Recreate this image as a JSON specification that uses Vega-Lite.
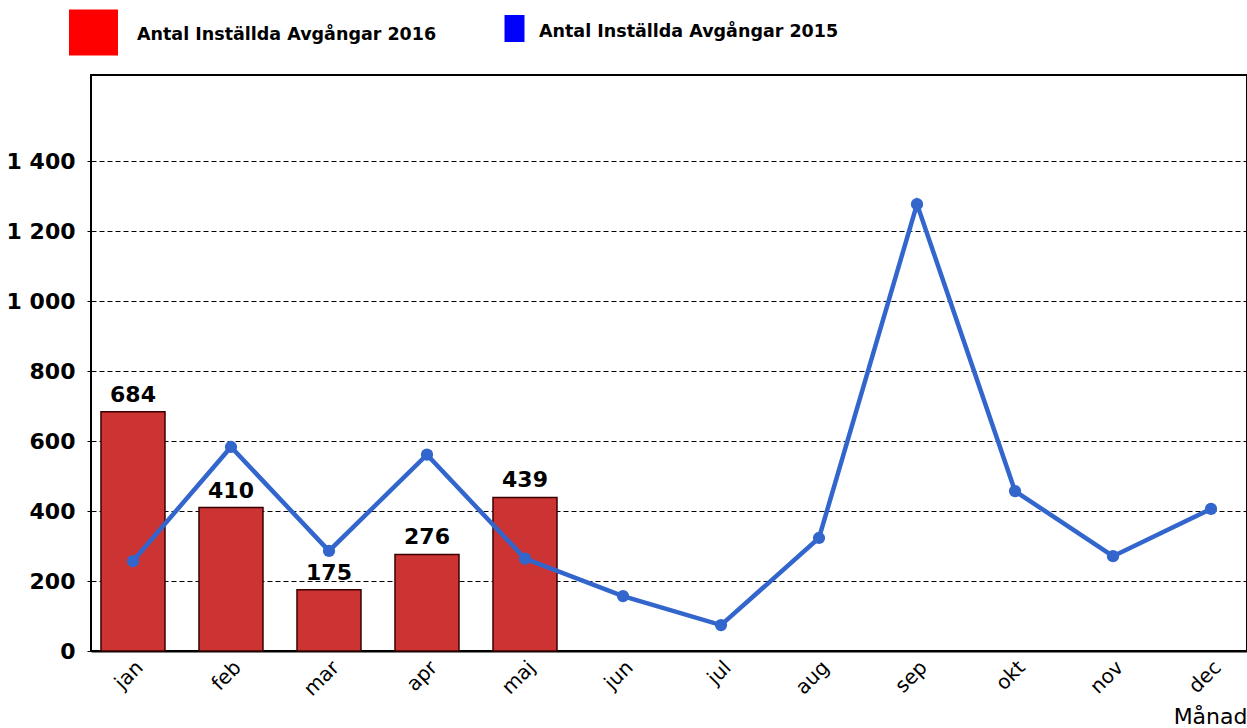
{
  "$schema": "https://vega.github.io/schema/vega-lite/v6.json",
  "width": 1156,
  "height": 576,
  "autosize": {"type": "none"},
  "padding": {"left": 91, "top": 75, "right": 0, "bottom": 77},
  "background": "white",
  "config": {
    "font": "DejaVu Sans",
    "view": {"stroke": "black", "strokeWidth": 2},
    "axis": {"labelFont": "DejaVu Sans", "titleFont": "DejaVu Sans"},
    "legend": {"labelFont": "DejaVu Sans"}
  },
  "resolve": {"scale": {"stroke": "independent"}, "legend": {"stroke": "independent"}},
  "datasets": {
    "bars": [
      {"month": "jan", "v2016": 684, "s": "Antal Inställda Avgångar 2016", "year": "2016"},
      {"month": "feb", "v2016": 410, "s": "Antal Inställda Avgångar 2016", "year": "2016"},
      {"month": "mar", "v2016": 175, "s": "Antal Inställda Avgångar 2016", "year": "2016"},
      {"month": "apr", "v2016": 276, "s": "Antal Inställda Avgångar 2016", "year": "2016"},
      {"month": "maj", "v2016": 439, "s": "Antal Inställda Avgångar 2016", "year": "2016"}
    ],
    "line": [
      {"month": "jan", "v2015": 257, "s": "Antal Inställda Avgångar 2015"},
      {"month": "feb", "v2015": 583, "s": "Antal Inställda Avgångar 2015"},
      {"month": "mar", "v2015": 286, "s": "Antal Inställda Avgångar 2015"},
      {"month": "apr", "v2015": 561, "s": "Antal Inställda Avgångar 2015"},
      {"month": "maj", "v2015": 264, "s": "Antal Inställda Avgångar 2015"},
      {"month": "jun", "v2015": 157, "s": "Antal Inställda Avgångar 2015"},
      {"month": "jul", "v2015": 74, "s": "Antal Inställda Avgångar 2015"},
      {"month": "aug", "v2015": 323, "s": "Antal Inställda Avgångar 2015"},
      {"month": "sep", "v2015": 1277, "s": "Antal Inställda Avgångar 2015"},
      {"month": "okt", "v2015": 457, "s": "Antal Inställda Avgångar 2015"},
      {"month": "nov", "v2015": 271, "s": "Antal Inställda Avgångar 2015"},
      {"month": "dec", "v2015": 406, "s": "Antal Inställda Avgångar 2015"}
    ]
  },
  "encoding": {
    "x": {
      "field": "month",
      "type": "ordinal",
      "sort": ["jan","feb","mar","apr","maj","jun","jul","aug","sep","okt","nov","dec"],
      "scale": {"domain": ["jan","feb","mar","apr","maj","jun","jul","aug","sep","okt","nov","dec"], "paddingInner": 0.347, "paddingOuter": 0.0714, "align": 0.714},
      "axis": {
        "title": "Månad",
        "titleFontSize": 22,
        "titleFontWeight": "normal",
        "titleColor": "black",
        "titleAnchor": "end",
        "titleAlign": "right",
        "titleBaseline": "alphabetic",
        "titleX": 1156,
        "titleY": 72,
        "labelAngle": -45,
        "labelFontSize": 20,
        "labelColor": "black",
        "labelPadding": 6,
        "domainColor": "black",
        "domainWidth": 2,
        "ticks": false,
        "grid": false
      }
    }
  },
  "layer": [
    {
      "data": {"name": "bars"},
      "mark": {"type": "bar", "strokeWidth": 1.5},
      "encoding": {
        "y": {
          "field": "v2016",
          "type": "quantitative",
          "scale": {"domain": [0, 1646], "nice": false},
          "axis": {
            "title": null,
            "values": [0, 200, 400, 600, 800, 1000, 1200, 1400],
            "labelExpr": "replace(format(datum.value, ','), ',', ' ')",
            "labelFontSize": 22,
            "labelFontWeight": "bold",
            "labelColor": "black",
            "labelPadding": 12,
            "tickSize": 4,
            "tickColor": "black",
            "domain": false,
            "grid": true,
            "gridColor": "black",
            "gridDash": [5, 3],
            "gridWidth": 1,
            "gridOpacity": 1
          }
        },
        "fill": {
          "field": "year",
          "type": "nominal",
          "scale": {"range": ["#CC3333"]},
          "legend": null
        },
        "stroke": {
          "field": "s",
          "type": "nominal",
          "scale": {"range": ["#3a0000"]},
          "legend": {
            "title": null,
            "orient": "none",
            "legendX": -22,
            "legendY": -67,
            "symbolType": "M-1,-0.94H1V0.94H-1Z",
            "symbolSize": 2401,
            "symbolStrokeWidth": 0,
            "symbolFillColor": "#FF0000",
            "labelFontSize": 17.5,
            "labelFontWeight": "bold",
            "labelColor": "black",
            "labelOffset": 19,
            "labelLimit": 500,
            "encode": {"symbols": {"update": {"fill": {"value": "#FF0000"}}}, "labels": {"update": {"dy": {"value": 2}}}}
          }
        }
      }
    },
    {
      "data": {"name": "bars"},
      "mark": {"type": "text", "fontSize": 22, "fontWeight": "bold", "baseline": "bottom", "dy": -5, "color": "black"},
      "encoding": {
        "y": {"field": "v2016", "type": "quantitative"},
        "text": {"field": "v2016", "type": "quantitative"}
      }
    },
    {
      "data": {"name": "line"},
      "mark": {"type": "line", "strokeWidth": 4.5},
      "encoding": {
        "y": {"field": "v2015", "type": "quantitative"},
        "stroke": {
          "field": "s",
          "type": "nominal",
          "scale": {"range": ["#3366CC"]},
          "legend": {
            "title": null,
            "orient": "none",
            "legendX": 410,
            "legendY": -60,
            "symbolType": "M-0.74,-1H0.74V1H-0.74Z",
            "symbolSize": 729,
            "symbolStrokeWidth": 0,
            "labelFontSize": 17.5,
            "labelFontWeight": "bold",
            "labelColor": "black",
            "labelOffset": 11,
            "labelLimit": 500,
            "encode": {"symbols": {"update": {"fill": {"value": "#0000FF"}}}, "labels": {"update": {"dy": {"value": 3}}}}
          }
        }
      }
    },
    {
      "data": {"name": "line"},
      "mark": {"type": "point", "filled": true, "size": 150, "opacity": 1, "color": "#3366CC"},
      "encoding": {
        "y": {"field": "v2015", "type": "quantitative"}
      }
    }
  ]
}
